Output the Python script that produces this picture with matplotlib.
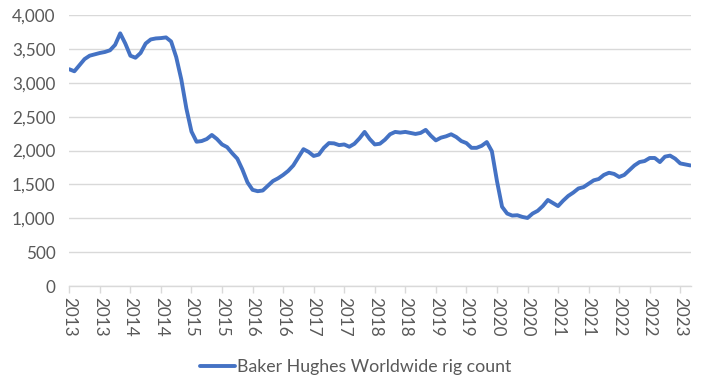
import matplotlib
matplotlib.use("Agg")
import matplotlib.pyplot as plt

plt.rcParams['font.family'] = ['Lato', 'DejaVu Sans']

series_name = "Baker Hughes Worldwide rig count"
rig_count = [
    3200, 3170, 3260, 3350, 3400, 3420, 3440, 3455, 3480, 3560,
    3730, 3580, 3400, 3370, 3440, 3580, 3640, 3655, 3660, 3670,
    3610, 3380, 3050, 2620, 2280, 2130, 2140, 2170, 2230, 2170,
    2090, 2050, 1960, 1880, 1720, 1530, 1420, 1400, 1410, 1480,
    1550, 1590, 1640, 1700, 1780, 1900, 2020, 1980, 1920, 1940,
    2040, 2110, 2106, 2080, 2090, 2056, 2100, 2180, 2275, 2170,
    2090, 2100, 2160, 2240, 2275, 2265, 2275, 2260, 2245, 2260,
    2305, 2220, 2150, 2190, 2210, 2240, 2200, 2140, 2110, 2040,
    2040, 2070, 2125, 1990, 1550, 1170, 1070, 1040, 1045, 1020,
    1005, 1070, 1110, 1180, 1270, 1225, 1180, 1260, 1330, 1380,
    1440, 1460, 1510, 1560, 1580, 1640, 1672, 1655, 1610, 1640,
    1710, 1780, 1830, 1845, 1890, 1890, 1830, 1910, 1925, 1880,
    1810, 1795, 1780,
]
month_index = list(range(len(rig_count)))
tick_months = list(range(0, 121, 6))
tick_labels = ["2013", "2013", "2014", "2014", "2015", "2015", "2016", "2016",
               "2017", "2017", "2018", "2018", "2019", "2019", "2020", "2020",
               "2021", "2021", "2022", "2022", "2023"]
y_ticks = list(range(0, 4001, 500))

fig = plt.figure(figsize=(7.07, 3.86), dpi=100)
ax = fig.add_axes([0.098, 0.259, 0.880, 0.702])

ax.plot(month_index, rig_count, color="#4472C4", linewidth=2.8,
        solid_joinstyle="round", solid_capstyle="round", label=series_name, zorder=3)

ax.set_xlim(0, 122.2)
ax.set_ylim(0, 4000)
ax.set_yticks(y_ticks)
ax.set_yticklabels([f"{v:,}" for v in y_ticks])
ax.set_xticks(tick_months)
ax.set_xticklabels(tick_labels, rotation=270, va="top", ha="center")

ax.grid(axis="y", color="#D9D9D9", linewidth=1.0, zorder=0)
for s in ["top", "right", "left"]:
    ax.spines[s].set_visible(False)
ax.spines["bottom"].set_color("#D9D9D9")
ax.spines["bottom"].set_linewidth(1.0)
ax.tick_params(axis="y", length=0, pad=10, labelsize=12.3, labelcolor="#595959")
ax.tick_params(axis="x", length=5, width=1.0, color="#D9D9D9", pad=3,
               labelsize=12.3, labelcolor="#595959")

fig.legend(loc="center", bbox_to_anchor=(0.503, 0.049), frameon=False,
           fontsize=12.8, handlelength=2.0, handletextpad=0.1, labelcolor="#595959")

fig.savefig("out.png", dpi=100)
